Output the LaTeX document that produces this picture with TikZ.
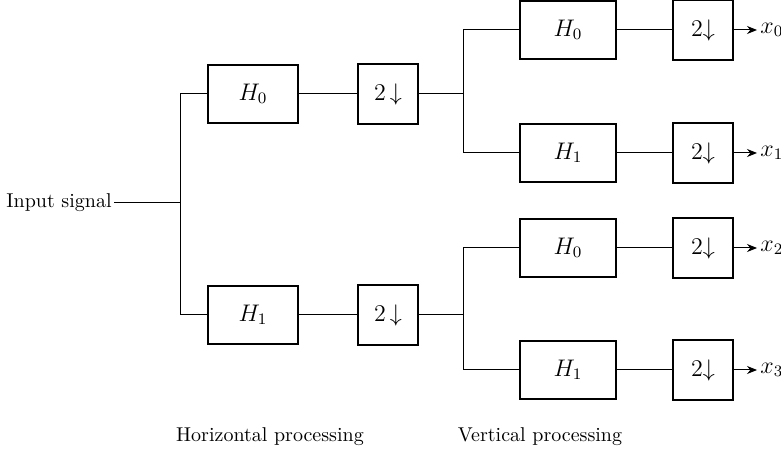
\documentclass[tikz,border=0pt]{standalone}
\usetikzlibrary{positioning,arrows.meta}

\begin{document}
\begin{tikzpicture}[
  x=0.5pt, y=-0.5pt,
  font=\normalsize,
  flt/.style={rectangle, draw=black, line width=0.6pt, minimum width=45pt,
              minimum height=29pt, inner sep=2pt, fill=white, font=\large},
  flt2/.style={flt, minimum width=48pt},
  dwn/.style={flt, minimum width=30pt, minimum height=30pt},
  sig/.style={draw=black, line width=0.5pt},
  outarr/.style={sig, -{Stealth[length=5pt,width=4pt]}},
  lbl/.style={anchor=west, inner sep=1.5pt, font=\large}
]
\useasboundingbox (0,0) rectangle (781,453);

\node[anchor=east, inner sep=1pt] (src) at (114,203) {Input signal};
\coordinate (sp) at (180,203);

\node[flt] (ha) at (253,94)  {$H_0$};
\node[flt] (hb) at (253,315) {$H_1$};
\node[dwn] (da) at (388,94)  {$2\,\big\downarrow$};
\node[dwn] (db) at (388,315) {$2\,\big\downarrow$};
\coordinate (spa) at (463,94);
\coordinate (spb) at (463,315);

\node[flt2] (g0) at (568,30)  {$H_0$};
\node[flt2] (g1) at (568,153) {$H_1$};
\node[flt2] (g2) at (568,248) {$H_0$};
\node[flt2] (g3) at (568,370) {$H_1$};
\node[dwn]  (e0) at (703,30)  {$2\big\downarrow$};
\node[dwn]  (e1) at (703,153) {$2\big\downarrow$};
\node[dwn]  (e2) at (703,248) {$2\big\downarrow$};
\node[dwn]  (e3) at (703,370) {$2\big\downarrow$};
\node[lbl] (x0) at (757,30)  {$x_0$};
\node[lbl] (x1) at (757,153) {$x_1$};
\node[lbl] (x2) at (757,248) {$x_2$};
\node[lbl] (x3) at (757,370) {$x_3$};

\node (hor) at (270,437) {Horizontal processing};
\node (ver) at (540,437) {Vertical processing};

% first stage
\draw[sig] (src.east) -- (sp);
\draw[sig] (sp) |- (ha.west);
\draw[sig] (sp) |- (hb.west);
\draw[sig] (ha) -- (da);
\draw[sig] (hb) -- (db);
\draw[sig] (da.east) -- (spa);
\draw[sig] (db.east) -- (spb);

% second stage
\draw[sig] (spa) |- (g0.west);
\draw[sig] (spa) |- (g1.west);
\draw[sig] (spb) |- (g2.west);
\draw[sig] (spb) |- (g3.west);
\draw[sig] (g0) -- (e0);
\draw[sig] (g1) -- (e1);
\draw[sig] (g2) -- (e2);
\draw[sig] (g3) -- (e3);
\draw[outarr] (e0) -- (x0);
\draw[outarr] (e1) -- (x1);
\draw[outarr] (e2) -- (x2);
\draw[outarr] (e3) -- (x3);
\end{tikzpicture}
\end{document}
